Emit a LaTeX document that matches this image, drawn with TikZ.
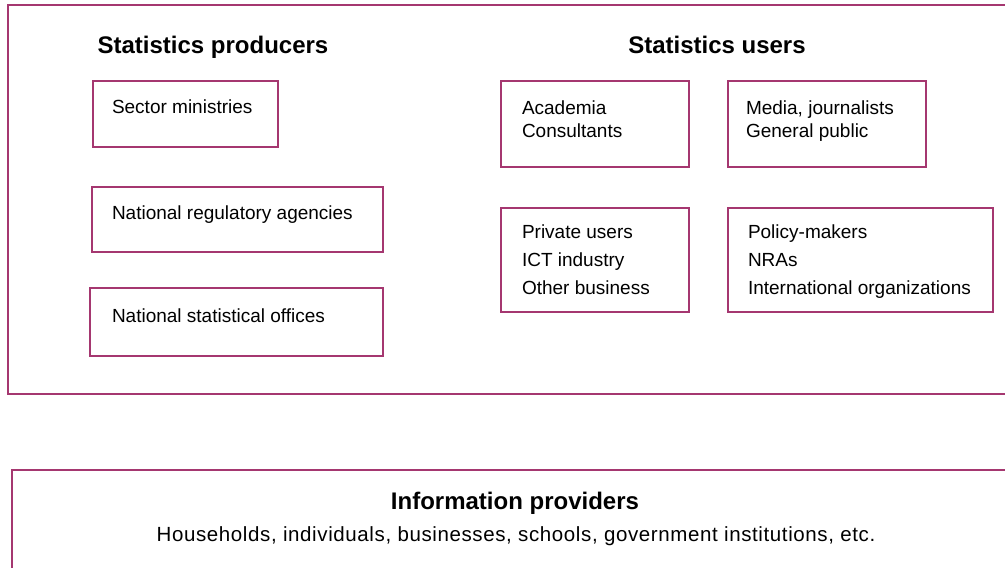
\documentclass[tikz,border=0pt]{standalone}
\usepackage{fontspec}
\setmainfont{Liberation Sans}
\definecolor{boxcol}{RGB}{165,55,112}
\tikzset{
  frame/.style={draw=boxcol, line width=2pt, rectangle, inner sep=0pt, outer sep=0pt, anchor=north west},
  txt/.style={inner sep=0pt, outer sep=0pt, anchor=north west, align=left, font=\fontsize{19}{23}\selectfont},
  txtwide/.style={txt, font=\fontsize{19}{28}\selectfont},
  title/.style={inner sep=0pt, outer sep=0pt, anchor=base, font=\fontsize{24}{28}\selectfont\bfseries},
}
\begin{document}
\begin{tikzpicture}[x=1pt,y=-1pt]
\clip (0,0) rectangle (1005,568);
\fill[white] (0,0) rectangle (1005,568);
% containers
\node[frame, minimum width=1020pt, minimum height=389pt] (top) at (8,5) {};
\node[frame, minimum width=1020pt, minimum height=120pt] (bottom) at (12,470) {};
% titles
\node[title] (prodtitle) at (213,53.5) {Statistics producers};
\node[title] (usertitle) at (717,53.5) {Statistics users};
\node[title, font=\fontsize{24}{28}\selectfont\bfseries] (infotitle) at (515,509) {Information providers};
\node[inner sep=0pt, anchor=base, font=\fontsize{20.5}{24}\selectfont\addfontfeature{LetterSpace=3}] (infotext) at (516,541) {Households, individuals, businesses, schools, government institutions, etc.};
% producer boxes
\node[frame, minimum width=185pt, minimum height=66pt] (sector) at (93,81) {};
\node[txt] (sectort) at (112,100) {Sector ministries};
\node[frame, minimum width=291pt, minimum height=65pt] (nra) at (92,187) {};
\node[txt] (nrat) at (112,206) {National regulatory agencies};
\node[frame, minimum width=293pt, minimum height=68pt] (nso) at (90,288) {};
\node[txt] (nsot) at (112,309) {National statistical offices};
% user boxes
\node[frame, minimum width=188pt, minimum height=86pt] (acad) at (501,81) {};
\node[txt] (acadt) at (522,101) {Academia\\Consultants};
\node[frame, minimum width=198pt, minimum height=86pt] (media) at (728,81) {};
\node[txt] (mediat) at (746,101) {Media, journalists\\General public};
\node[frame, minimum width=188pt, minimum height=104pt] (priv) at (501,208) {};
\node[txtwide] (privt) at (522,225) {Private users\\ICT industry\\Other business};
\node[frame, minimum width=265pt, minimum height=104pt] (policy) at (728,208) {};
\node[txtwide] (policyt) at (748,225) {Policy-makers\\NRAs\\International organizations};
\end{tikzpicture}
\end{document}
